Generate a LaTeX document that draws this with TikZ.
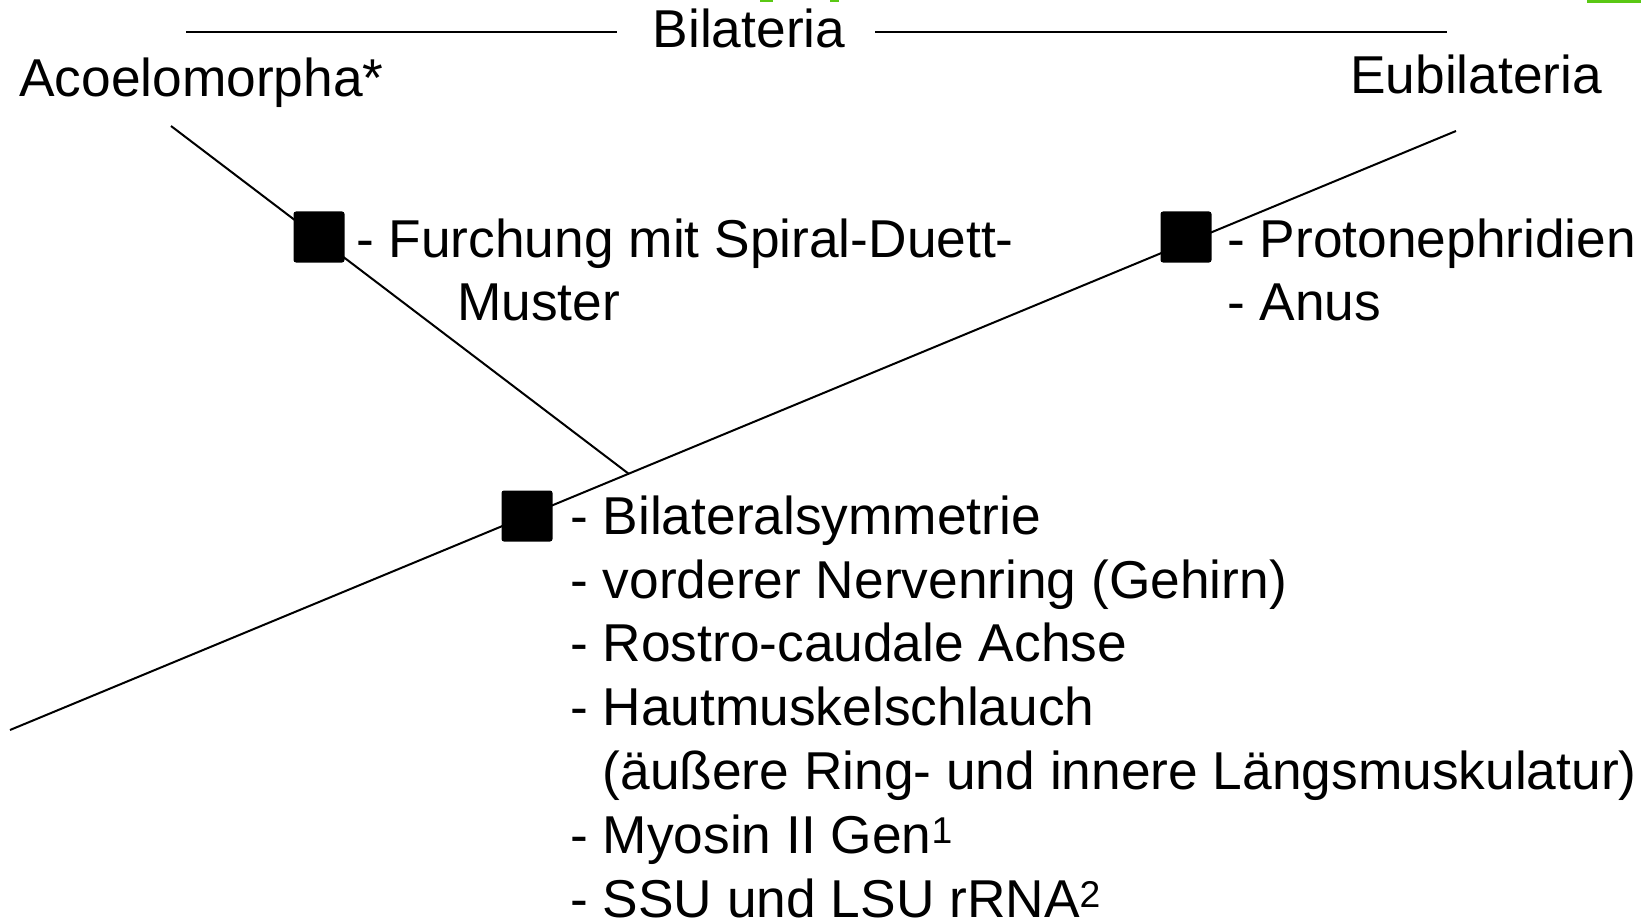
\documentclass[tikz,border=0pt]{standalone}
\usepackage{fontspec}
\setmainfont{Liberation Sans}
\begin{document}
\begin{tikzpicture}[x=1pt,y=-1pt,
  branch/.style={line width=2pt,black},
  trait/.style={fill=black,draw=none,minimum size=51pt,inner sep=0pt,rounded corners=2.5pt},
  label/.style={inner sep=0pt,anchor=base west,font=\fontsize{53.3}{64}\selectfont},
  title/.style={inner sep=0pt,anchor=base,font=\fontsize{53.3}{64}\selectfont},
  edge mark/.style={fill={rgb,255:red,90;green,200;blue,20},draw=none}]
\useasboundingbox (0,0) rectangle (1641,920);

% thin green marks along the upper edge
\fill[edge mark] (760,0) rectangle (773,2);
\fill[edge mark] (830,0) rectangle (839,2);
\fill[edge mark] (1587,0) rectangle (1641,3);

% clade header
\node[title] (bil) at (749,48) {Bilateria};
\coordinate (hl1) at (186,32);
\coordinate (hl2) at (617,32);
\coordinate (hr1) at (875,32);
\coordinate (hr2) at (1447,32);
\draw[branch] (hl1) -- (hl2);
\draw[branch] (hr1) -- (hr2);

\node[label] (acoel) at (19,97) {Acoelomorpha*};
\node[label] (eubil) at (1350,94) {Eubilateria};

% tree branches
\coordinate (root) at (10,730);
\coordinate (eutip) at (1456,131);
\coordinate (actip) at (171,126);
\coordinate (split) at (629,474);
\draw[branch] (root) -- (eutip);
\draw[branch] (actip) -- (split);

% apomorphy boxes
\node[trait] (b1) at (319,237) {};
\node[trait] (b2) at (1186,237) {};
\node[trait] (b3) at (527,516) {};

% Acoelomorpha characters
\node[label] (f1) at (356,257) {- Furchung mit Spiral-Duett-};
\node[label] (f2) at (457,320) {Muster};

% Eubilateria characters
\node[label] (p1) at (1227,257) {- Protonephridien};
\node[label] (p2) at (1227,320) {- Anus};

% Bilateria characters
\node[label] (c1) at (570,534) {- Bilateralsymmetrie};
\node[label] (c2) at (570,598) {- vorderer Nervenring (Gehirn)};
\node[label] (c3) at (570,661) {- Rostro-caudale Achse};
\node[label] (c4) at (570,725) {- Hautmuskelschlauch};
\node[label] (c5) at (570,789) {\hphantom{- }(äußere Ring- und innere Längsmuskulatur)};
\node[label] (c6) at (570,853) {- Myosin II Gen\textsuperscript{1}};
\node[label] (c7) at (570,917) {- SSU und LSU rRNA\textsuperscript{2}};
\end{tikzpicture}
\end{document}
